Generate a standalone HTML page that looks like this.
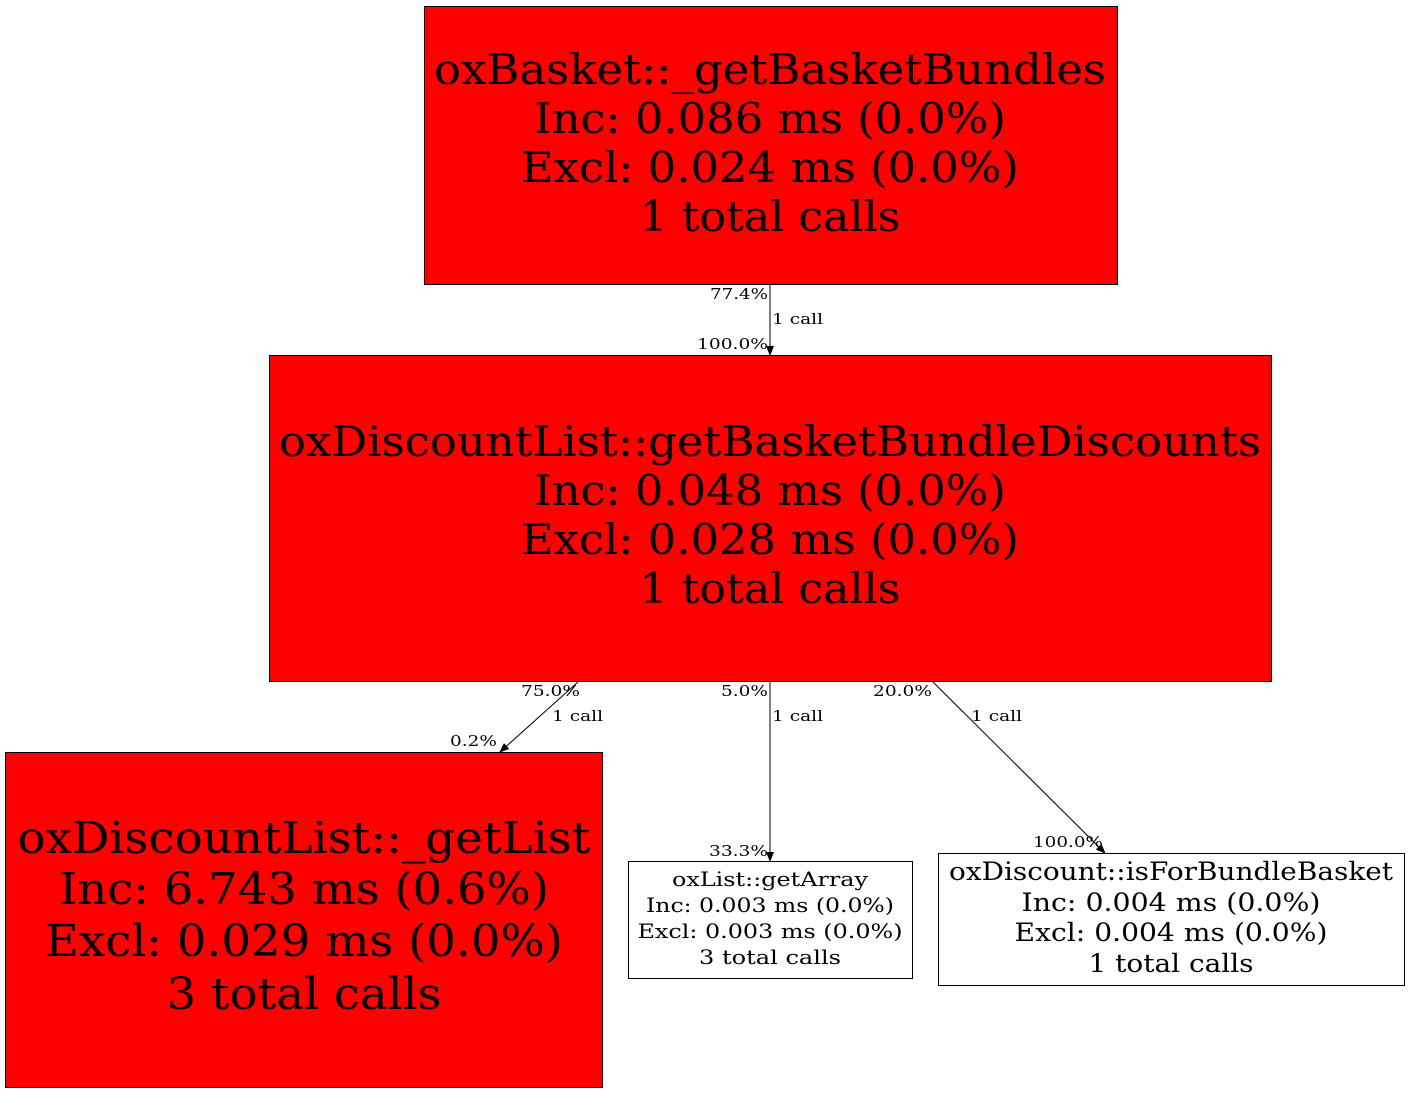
<!DOCTYPE html>
<html><head><meta charset="utf-8"><style>
html,body{margin:0;padding:0;background:#fff;}
svg{display:block;font-family:"DejaVu Serif","Liberation Serif",serif;}
</style></head><body>
<svg width="1411" height="1093" viewBox="0 0 1411 1093" xmlns="http://www.w3.org/2000/svg">
<defs><marker id="a" markerWidth="10" markerHeight="10" refX="9" refY="5" orient="auto" markerUnits="userSpaceOnUse"><path d="M0,1 L10,5 L0,9 z" fill="#000"/></marker></defs>
<rect x="424.5" y="6.5" width="693" height="278" fill="#f00" stroke="#000"/>
<g text-anchor="middle" font-size="42">
<text x="770" y="84" textLength="672" lengthAdjust="spacingAndGlyphs">oxBasket::_getBasketBundles</text>
<text x="770" y="133" textLength="472" lengthAdjust="spacingAndGlyphs">Inc: 0.086 ms (0.0%)</text>
<text x="770" y="182" textLength="498" lengthAdjust="spacingAndGlyphs">Excl: 0.024 ms (0.0%)</text>
<text x="770" y="231" textLength="261" lengthAdjust="spacingAndGlyphs">1 total calls</text>
</g>
<rect x="269.5" y="355.5" width="1002" height="326" fill="#f00" stroke="#000"/>
<g text-anchor="middle" font-size="42">
<text x="770" y="456" textLength="982" lengthAdjust="spacingAndGlyphs">oxDiscountList::getBasketBundleDiscounts</text>
<text x="770" y="505" textLength="472" lengthAdjust="spacingAndGlyphs">Inc: 0.048 ms (0.0%)</text>
<text x="770" y="554" textLength="498" lengthAdjust="spacingAndGlyphs">Excl: 0.028 ms (0.0%)</text>
<text x="770" y="603" textLength="261" lengthAdjust="spacingAndGlyphs">1 total calls</text>
</g>
<rect x="5.5" y="752.5" width="597" height="335" fill="#f00" stroke="#000"/>
<g text-anchor="middle" font-size="44">
<text x="304" y="853" textLength="573" lengthAdjust="spacingAndGlyphs">oxDiscountList::_getList</text>
<text x="304" y="904" textLength="490" lengthAdjust="spacingAndGlyphs">Inc: 6.743 ms (0.6%)</text>
<text x="304" y="956" textLength="518" lengthAdjust="spacingAndGlyphs">Excl: 0.029 ms (0.0%)</text>
<text x="304" y="1009" textLength="275" lengthAdjust="spacingAndGlyphs">3 total calls</text>
</g>
<rect x="628.5" y="861.5" width="284" height="117" fill="#fff" stroke="#000"/>
<g text-anchor="middle" font-size="20">
<text x="770" y="886" textLength="196" lengthAdjust="spacingAndGlyphs">oxList::getArray</text>
<text x="770" y="912" textLength="248" lengthAdjust="spacingAndGlyphs">Inc: 0.003 ms (0.0%)</text>
<text x="770" y="938" textLength="265" lengthAdjust="spacingAndGlyphs">Excl: 0.003 ms (0.0%)</text>
<text x="770" y="964" textLength="142" lengthAdjust="spacingAndGlyphs">3 total calls</text>
</g>
<rect x="938.5" y="853.5" width="466" height="132" fill="#fff" stroke="#000"/>
<g text-anchor="middle" font-size="25">
<text x="1171" y="880" textLength="444" lengthAdjust="spacingAndGlyphs">oxDiscount::isForBundleBasket</text>
<text x="1171" y="911" textLength="299" lengthAdjust="spacingAndGlyphs">Inc: 0.004 ms (0.0%)</text>
<text x="1171" y="941" textLength="313" lengthAdjust="spacingAndGlyphs">Excl: 0.004 ms (0.0%)</text>
<text x="1171" y="972" textLength="165" lengthAdjust="spacingAndGlyphs">1 total calls</text>
</g>
<g stroke="#000" fill="none">
<line x1="770" y1="285" x2="770" y2="355" marker-end="url(#a)"/>
<line x1="578" y1="682" x2="500" y2="752" marker-end="url(#a)"/>
<line x1="770" y1="682" x2="770" y2="861" marker-end="url(#a)"/>
<line x1="933" y1="682" x2="1105" y2="853" marker-end="url(#a)"/>
</g>
<g font-size="15">
<text x="710" y="299" textLength="58" lengthAdjust="spacingAndGlyphs">77.4%</text>
<text x="772" y="324" textLength="51" lengthAdjust="spacingAndGlyphs">1 call</text>
<text x="697" y="349" textLength="71" lengthAdjust="spacingAndGlyphs">100.0%</text>
<text x="521" y="696" textLength="59" lengthAdjust="spacingAndGlyphs">75.0%</text>
<text x="552" y="721" textLength="51" lengthAdjust="spacingAndGlyphs">1 call</text>
<text x="450" y="746" textLength="47" lengthAdjust="spacingAndGlyphs">0.2%</text>
<text x="721" y="696" textLength="47" lengthAdjust="spacingAndGlyphs">5.0%</text>
<text x="772" y="721" textLength="51" lengthAdjust="spacingAndGlyphs">1 call</text>
<text x="709" y="856" textLength="59" lengthAdjust="spacingAndGlyphs">33.3%</text>
<text x="873" y="696" textLength="59" lengthAdjust="spacingAndGlyphs">20.0%</text>
<text x="971" y="721" textLength="51" lengthAdjust="spacingAndGlyphs">1 call</text>
<text x="1033" y="847" textLength="70" lengthAdjust="spacingAndGlyphs">100.0%</text>
</g>
</svg>
</body></html>
